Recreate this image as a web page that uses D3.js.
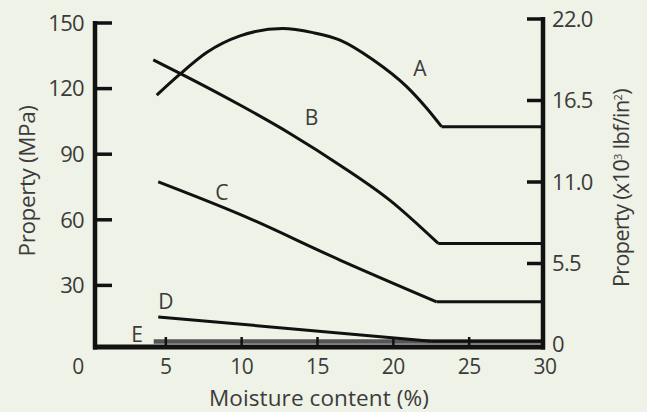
<!DOCTYPE html>
<html><head><meta charset="utf-8">
<script src="https://cdn.jsdelivr.net/npm/d3@7"></script>
<style>
html,body{margin:0;padding:0;background:#eff2e6;}
svg{display:block;}
text{font-family:"Open Sans",sans-serif;fill:#3b3b3b;}
</style></head>
<body>
<svg id="c" width="647" height="412"></svg>
<script>
// ---- data ----
const leftTicks = [0, 30, 60, 90, 120, 150];
const rightTicks = [0, 5.5, 11.0, 16.5, 22.0];
const rightTickLabels = ["0", "5.5", "11.0", "16.5", "22.0"];
const xTicks = [0, 5, 10, 15, 20, 25, 30];
const seriesNames = ["A", "B", "C", "D", "E"];
const xA = [4.4, 5.93, 7.69, 9.89, 12.7, 14.7, 16.48, 18.68, 20.88, 22.2, 23.18, 30];
const yA = [117, 126.6, 136.5, 144.1, 147.5, 145.6, 142.2, 133.1, 120.9, 111.0, 102.6, 102.6];
const xB = [4.17, 5.93, 9.89, 13.18, 16.48, 19.78, 22.96, 30];
const yB = [133.1, 127, 112.5, 99.5, 85.0, 68.9, 49.2, 49.2];
const xC = [4.5, 9.89, 16.48, 22.85, 30];
const yC = [77.4, 62.5, 41.6, 22.5, 22.5];
const xD = [4.5, 22.5, 30];
const yD = [15.6, 4.5, 4.5];
const xE = [4.2, 30];
const yE = [4.3, 4.3];
const labelX = [21.75, 14.6, 8.7, 5.0, 3.1];
const labelY = [129, 106.8, 72.6, 22.5, 7.3];

// ---- scales ----
const svg = d3.select("#c");
const x = d3.scaleLinear().domain([0, 30]).range([90, 545]);
const y = d3.scaleLinear().domain([0, 150]).range([351, 23]);
const yR = d3.scaleLinear().domain([0, 22]).range([345, 19]);
const axisLeftX = 95, axisRightX = 543, axisBottomY = 347;

// ---- series ----
const series = [
  {xs: xE, ys: yE, knee: 0, color: "#555", w: 4.5},
  {xs: xD, ys: yD, knee: 1, color: "#111", w: 3},
  {xs: xC, ys: yC, knee: 3, color: "#111", w: 3},
  {xs: xB, ys: yB, knee: 6, color: "#111", w: 3},
  {xs: xA, ys: yA, knee: 10, color: "#111", w: 3}
];
series.forEach(s => {
  const pts = s.xs.map((v, i) => [v, s.ys[i]]);
  const curvePts = pts.slice(0, s.knee + 1);
  const flatPts = pts.slice(s.knee);
  const gen = d3.line().x(d => x(d[0])).y(d => y(d[1]));
  const curveGen = d3.line().x(d => x(d[0])).y(d => y(d[1])).curve(d3.curveMonotoneX);
  if (curvePts.length > 1)
    svg.append("path").attr("d", curveGen(curvePts)).attr("fill", "none")
      .attr("stroke", s.color).attr("stroke-width", s.w).attr("stroke-linejoin", "round");
  svg.append("path").attr("d", gen(flatPts)).attr("fill", "none")
    .attr("stroke", s.color).attr("stroke-width", s.w).attr("stroke-linejoin", "miter");
});

// ---- axes frame ----
const ax = svg.append("g").attr("stroke", "#111").attr("fill", "none");
ax.append("line").attr("x1", axisLeftX).attr("x2", axisLeftX).attr("y1", y(150) - 2).attr("y2", axisBottomY + 2.5).attr("stroke-width", 4.5);
ax.append("line").attr("x1", axisRightX).attr("x2", axisRightX).attr("y1", yR(22) - 2).attr("y2", axisBottomY + 2.5).attr("stroke-width", 4.5);
ax.append("line").attr("x1", axisLeftX - 2).attr("x2", axisRightX + 2).attr("y1", axisBottomY).attr("y2", axisBottomY).attr("stroke-width", 5);
leftTicks.filter(t => t > 0).forEach(t => {
  ax.append("line").attr("x1", axisLeftX).attr("x2", axisLeftX + 17).attr("y1", y(t)).attr("y2", y(t)).attr("stroke-width", 3.5);
});
rightTicks.filter(t => t > 0).forEach(t => {
  ax.append("line").attr("x1", axisRightX - 16).attr("x2", axisRightX).attr("y1", yR(t)).attr("y2", yR(t)).attr("stroke-width", 3.5);
});
xTicks.filter(t => t > 0 && t < 30).forEach(t => {
  ax.append("line").attr("x1", x(t)).attr("x2", x(t)).attr("y1", axisBottomY - 10).attr("y2", axisBottomY).attr("stroke-width", 2.5);
});

// ---- tick labels ----
const fs = 22;
leftTicks.filter(t => t > 0).forEach(t => {
  svg.append("text").attr("x", 84).attr("y", y(t)).attr("dy", "0.35em")
    .attr("text-anchor", "end").attr("font-size", fs).attr("letter-spacing", -0.7).text(t);
});
rightTicks.forEach((t, i) => {
  svg.append("text").attr("x", 552).attr("y", i === 0 ? 344 : yR(t)).attr("dy", "0.35em")
    .attr("text-anchor", "start").attr("font-size", fs).attr("letter-spacing", -0.7).text(rightTickLabels[i]);
});
xTicks.forEach(t => {
  svg.append("text").attr("x", t === 0 ? 78 : x(t)).attr("y", 367).attr("dy", "0.35em")
    .attr("text-anchor", "middle").attr("font-size", 21).attr("letter-spacing", -0.5).text(t);
});

// ---- axis titles ----
svg.append("text").attr("x", 319).attr("y", 398).attr("dy", "0.35em").attr("text-anchor", "middle")
  .attr("font-size", 22.5).attr("letter-spacing", 0.1).text("Moisture content (%)");
svg.append("text").attr("transform", "translate(27,181) rotate(-90)").attr("dy", "0.35em")
  .attr("text-anchor", "middle").attr("font-size", 22.5).attr("letter-spacing", -0.4).text("Property (MPa)");
const rt = svg.append("text").attr("transform", "translate(621,287) rotate(-90)").attr("dy", "0.35em")
  .attr("text-anchor", "start").attr("font-size", 21.5).attr("letter-spacing", -0.6);
rt.append("tspan").text("Property (x10");
rt.append("tspan").attr("font-size", 11).attr("baseline-shift", "super").text("3");
rt.append("tspan").text(" lbf/in");
rt.append("tspan").attr("font-size", 11).attr("baseline-shift", "super").text("2");
rt.append("tspan").text(")");

// ---- series labels ----
seriesNames.forEach((n, i) => {
  svg.append("text").attr("x", x(labelX[i])).attr("y", y(labelY[i])).attr("dy", "0.35em")
    .attr("text-anchor", "middle").attr("font-size", 21).text(n);
});
</script>
</body></html>
